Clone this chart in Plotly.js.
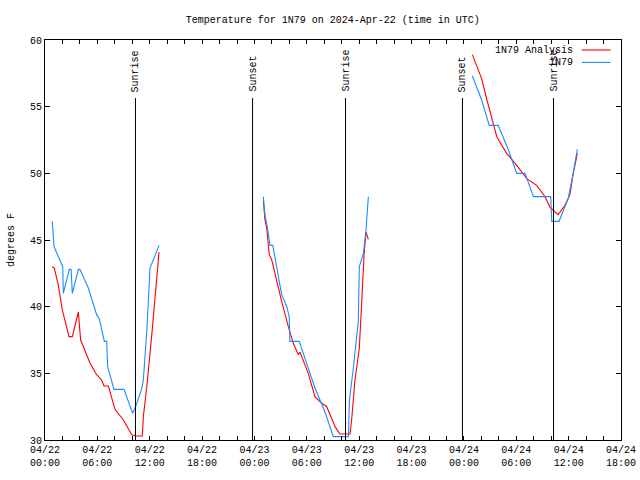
<!DOCTYPE html>
<html>
<head>
<meta charset="utf-8">
<script src="https://cdn.plot.ly/plotly-3.0.1.min.js"></script>
<style>html,body{margin:0;padding:0;background:#fff;}#chart{width:640px;height:480px;}</style>
</head>
<body>
<div id="chart"></div>
<script>
// Observed station series (1N79); null marks a gap in the record
const obsTimes = [
  '2024-04-22 00:50','2024-04-22 01:02','2024-04-22 01:32','2024-04-22 02:02','2024-04-22 02:06',
  '2024-04-22 02:47','2024-04-22 02:59','2024-04-22 03:08','2024-04-22 03:49','2024-04-22 04:00',
  '2024-04-22 04:58','2024-04-22 05:55','2024-04-22 06:13','2024-04-22 06:48','2024-04-22 07:04',
  '2024-04-22 07:11','2024-04-22 07:54','2024-04-22 09:03','2024-04-22 10:03','2024-04-22 10:23',
  '2024-04-22 11:04','2024-04-22 11:16','2024-04-22 11:39','2024-04-22 12:02','2024-04-22 13:04',
  '2024-04-22 18:00',
  '2024-04-23 01:01','2024-04-23 01:12','2024-04-23 01:30','2024-04-23 01:47','2024-04-23 02:06',
  '2024-04-23 02:33','2024-04-23 03:07','2024-04-23 03:42','2024-04-23 03:59','2024-04-23 04:04',
  '2024-04-23 05:08','2024-04-23 05:59','2024-04-23 06:56','2024-04-23 08:05','2024-04-23 09:02',
  '2024-04-23 10:46','2024-04-23 10:53','2024-04-23 11:20','2024-04-23 11:54','2024-04-23 12:01',
  '2024-04-23 12:29','2024-04-23 12:47','2024-04-23 13:03',
  '2024-04-23 18:00',
  '2024-04-24 00:58','2024-04-24 02:02','2024-04-24 02:54','2024-04-24 03:56','2024-04-24 05:06',
  '2024-04-24 06:03','2024-04-24 07:00','2024-04-24 07:58','2024-04-24 09:57','2024-04-24 10:04',
  '2024-04-24 10:54','2024-04-24 11:57','2024-04-24 12:27','2024-04-24 13:00'
];
const obsTemps = [
  46.4, 44.5, 43.75, 43.0, 41.0,
  42.8, 42.8, 41.0, 42.8, 42.8,
  41.4, 39.4, 39.1, 37.4, 37.4,
  35.5, 33.8, 33.8, 32.0, 32.5,
  33.8, 34.5, 38.0, 42.9, 44.6,
  null,
  48.25, 46.9, 45.9, 44.6, 44.6,
  43.0, 40.9, 40.0, 39.25, 37.4,
  37.4, 35.75, 33.9, 32.1, 30.25,
  30.25, 33.0, 35.4, 38.9, 43.0,
  44.0, 45.75, 48.25,
  null,
  57.3, 55.5, 53.6, 53.6, 51.75,
  50.0, 50.0, 48.25, 48.25, 46.4,
  46.4, 48.1, 49.75, 51.8
];

// Analysis series (1N79 Analysis)
const anaTimes = [
  '2024-04-22 00:50','2024-04-22 01:04','2024-04-22 01:32','2024-04-22 01:59','2024-04-22 02:45',
  '2024-04-22 03:08','2024-04-22 03:49','2024-04-22 04:05','2024-04-22 05:10','2024-04-22 05:55',
  '2024-04-22 06:29','2024-04-22 06:46','2024-04-22 07:16','2024-04-22 08:01','2024-04-22 08:59',
  '2024-04-22 09:56','2024-04-22 10:30','2024-04-22 11:09','2024-04-22 11:16','2024-04-22 11:39',
  '2024-04-22 12:13','2024-04-22 12:41','2024-04-22 13:04',
  '2024-04-22 18:00',
  '2024-04-23 01:01','2024-04-23 01:12','2024-04-23 01:24','2024-04-23 01:42','2024-04-23 01:59',
  '2024-04-23 02:28','2024-04-23 03:07','2024-04-23 03:53','2024-04-23 04:27','2024-04-23 05:02',
  '2024-04-23 05:13','2024-04-23 06:10','2024-04-23 06:56','2024-04-23 07:42','2024-04-23 08:17',
  '2024-04-23 09:14','2024-04-23 09:48','2024-04-23 10:57','2024-04-23 11:08','2024-04-23 11:31',
  '2024-04-23 12:01','2024-04-23 12:17','2024-04-23 12:34','2024-04-23 12:47','2024-04-23 13:03',
  '2024-04-23 18:00',
  '2024-04-24 00:58','2024-04-24 02:02','2024-04-24 02:36','2024-04-24 03:00','2024-04-24 03:46',
  '2024-04-24 04:54','2024-04-24 06:03','2024-04-24 07:12','2024-04-24 08:20','2024-04-24 09:18',
  '2024-04-24 09:52','2024-04-24 10:48','2024-04-24 11:35','2024-04-24 12:09','2024-04-24 12:30',
  '2024-04-24 13:00'
];
const anaTemps = [
  43.0, 42.9, 41.6, 39.75, 37.75,
  37.75, 39.6, 37.5, 35.75, 34.9,
  34.5, 34.05, 34.05, 32.3, 31.5,
  30.4, 30.3, 30.3, 31.75, 33.9,
  37.75, 41.25, 44.1,
  null,
  47.95, 46.55, 45.9, 43.9, 43.5,
  42.1, 40.4, 38.5, 37.25, 36.4,
  36.6, 35.0, 33.25, 32.75, 32.5,
  31.0, 30.45, 30.45, 31.5, 34.5,
  36.9, 40.25, 44.0, 45.6, 45.05,
  null,
  58.9, 57.1, 55.6, 54.6, 52.75,
  51.5, 50.6, 49.6, 49.1, 48.25,
  47.45, 46.9, 47.6, 48.4, 49.9,
  51.5
];

// Sun events
const sunTimes = ['2024-04-22 10:22','2024-04-22 23:47','2024-04-23 10:26','2024-04-23 23:50','2024-04-24 10:16'];
const sunLabels = ['Sunrise','Sunset','Sunrise','Sunset','Sunrise'];

const seriesNames = ['1N79 Analysis','1N79'];
const seriesColors = ['#ff0000','#1a8cff'];

const FONT = 'Liberation Mono, DejaVu Sans Mono, monospace';

const traces = [
  {x: anaTimes, y: anaTemps, type:'scatter', mode:'lines', name: seriesNames[0],
   line:{color: seriesColors[0], width:1.1}, connectgaps:false, showlegend:false},
  {x: obsTimes, y: obsTemps, type:'scatter', mode:'lines', name: seriesNames[1],
   line:{color: seriesColors[1], width:1.1}, connectgaps:false, showlegend:false}
];

const LINE_TOP = 55.65;
const shapes = sunTimes.map(t => ({
  type:'line', xref:'x', yref:'y', x0:t, x1:t, y0:30, y1:LINE_TOP,
  line:{color:'#000', width:1}
}));
const annotations = sunTimes.map((t,i) => ({
  xref:'x', yref:'y', x:t, y:LINE_TOP, text:sunLabels[i], textangle:-90,
  showarrow:false, xanchor:'center', yanchor:'bottom', yshift:4,
  font:{family:FONT, size:10, color:'#000'}
}));

// gnuplot-style key: text right-aligned, sample line to its right
const keyY = [0.975, 0.944];
seriesNames.forEach((n,i) => {
  annotations.push({xref:'paper', yref:'paper', x:0.92, y:keyY[i], text:n, showarrow:false,
    xanchor:'right', yanchor:'middle', font:{family:FONT, size:10, color:'#000'}});
  shapes.push({type:'line', xref:'paper', yref:'paper', x0:0.932, x1:0.982, y0:keyY[i], y1:keyY[i],
    line:{color:seriesColors[i], width:1.1}});
});

const layout = {
  width:640, height:480,
  margin:{l:45, r:19, t:40, b:40},
  paper_bgcolor:'#fff', plot_bgcolor:'#fff',
  font:{family:FONT, size:10, color:'#000'},
  showlegend:false,
  title:{text:'Temperature for 1N79 on 2024-Apr-22 (time in UTC)', x:0.52, xanchor:'center',
         y:0.96, yanchor:'middle', yref:'container', font:{family:FONT, size:10, color:'#000'}},
  xaxis:{
    type:'date', range:['2024-04-22 00:00','2024-04-24 18:00'],
    tick0:'2024-04-22 00:00', dtick:6*3600000, tickformat:'%m/%d<br>%H:%M',
    ticks:'inside', ticklen:4, tickcolor:'#000', tickwidth:1,
    minor:{dtick:2*3600000, ticks:'inside', ticklen:4, tickcolor:'#000', tickwidth:1, showgrid:false},
    showline:true, linecolor:'#000', linewidth:1, mirror:'ticks',
    showgrid:false, zeroline:false,
    tickfont:{family:FONT, size:10, color:'#000'}
  },
  yaxis:{
    range:[30,60], dtick:5, tick0:30,
    ticks:'inside', ticklen:5, tickcolor:'#000', tickwidth:1,
    showline:true, linecolor:'#000', linewidth:1, mirror:'ticks',
    showgrid:false, zeroline:false,
    tickfont:{family:FONT, size:10, color:'#000'},
    title:{text:'degrees F', standoff:13, font:{family:FONT, size:10, color:'#000'}}
  },
  shapes: shapes,
  annotations: annotations
};

Plotly.newPlot('chart', traces, layout, {staticPlot:true, displayModeBar:false});
</script>
</body>
</html>
